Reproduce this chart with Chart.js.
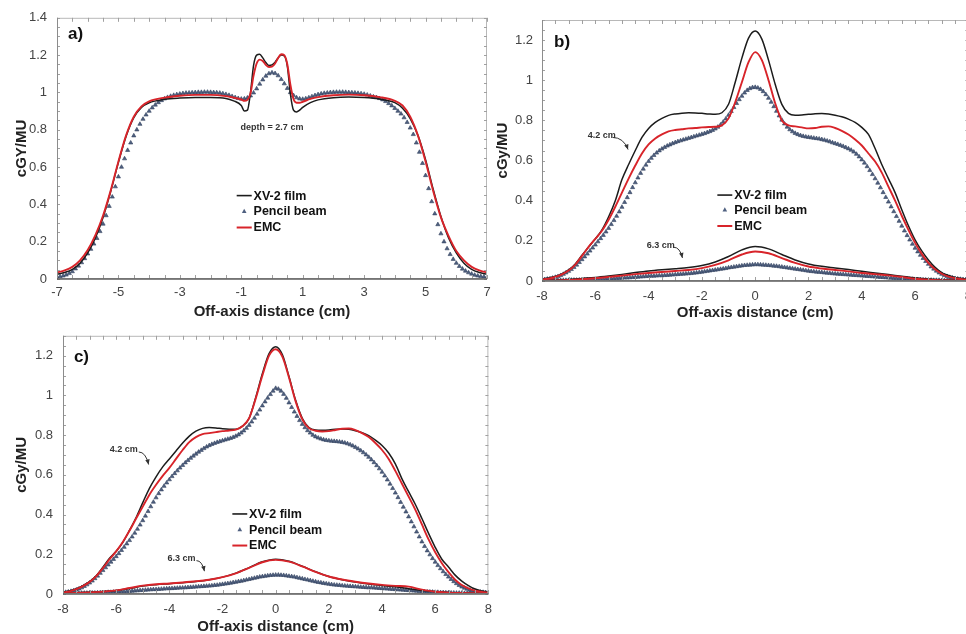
<!DOCTYPE html>
<html>
<head>
<meta charset="utf-8">
<script src="https://cdn.jsdelivr.net/npm/chart.js@4.4.1/dist/chart.umd.min.js"></script>
<style>
html,body{margin:0;padding:0;background:#fff;width:966px;height:634px;overflow:hidden;}
.panel{position:absolute;}
#pa{left:0;top:0;width:500px;height:322px;}
#pb{left:490px;top:0;width:490px;height:322px;}
#pc{left:0;top:318px;width:500px;height:320px;}
</style>
</head>
<body>
<div class="panel" id="pa"><canvas id="ca"></canvas></div>
<div class="panel" id="pb"><canvas id="cb"></canvas></div>
<div class="panel" id="pc"><canvas id="cc"></canvas></div>
<script>
const FONT = "'Liberation Sans', Arial, Helvetica, sans-serif";
const seriesNames = ['XV-2 film', 'Pencil beam', 'EMC'];

// ---------- tick values / labels ----------
const xTicksA = [-7, -5, -3, -1, 1, 3, 5, 7];
const xTickLabelsA = ['-7', '-5', '-3', '-1', '1', '3', '5', '7'];
const yTicksA = [0, 0.2, 0.4, 0.6, 0.8, 1, 1.2, 1.4];
const yTickLabelsA = ['0', '0.2', '0.4', '0.6', '0.8', '1', '1.2', '1.4'];
const xTicksBC = [-8, -6, -4, -2, 0, 2, 4, 6, 8];
const xTickLabelsBC = ['-8', '-6', '-4', '-2', '0', '2', '4', '6', '8'];
const yTicksBC = [0, 0.2, 0.4, 0.6, 0.8, 1, 1.2];
const yTickLabelsBC = ['0', '0.2', '0.4', '0.6', '0.8', '1', '1.2'];

// ---------- panel a (depth 2.7 cm) ----------
const xA_line = [-7,-6.75,-6.5,-6.25,-6,-5.75,-5.5,-5.25,-5,-4.75,-4.5,-4.25,-4,
  -3.5,-3,-2.5,-2,-1.5,-1.25,
  -1,-0.9,-0.8,-0.7,-0.6,-0.5,-0.4,-0.3,-0.2,-0.1,0,0.1,0.2,0.3,0.4,0.5,0.6,0.7,0.8,0.9,1,
  1.25,1.5,2,2.5,3,3.5,
  4,4.25,4.5,4.75,5,5.25,5.5,5.75,6,6.25,6.5,6.75,7];
const a_film = [0.025,0.035,0.052,0.085,0.140,0.220,0.330,0.470,0.625,0.765,0.865,0.920,0.945,
  0.963,0.970,0.973,0.973,0.968,0.955,
  0.930,0.900,0.905,1.000,1.145,1.200,1.205,1.185,1.160,1.145,1.148,1.162,1.185,1.200,1.195,1.140,0.990,0.905,0.895,0.905,0.920,
  0.945,0.960,0.972,0.975,0.973,0.965,
  0.945,0.915,0.860,0.770,0.640,0.480,0.335,0.220,0.140,0.085,0.052,0.035,0.025];
const a_emc = [0.035,0.046,0.065,0.100,0.155,0.235,0.340,0.475,0.630,0.770,0.870,0.925,0.952,
  0.972,0.982,0.987,0.987,0.980,0.972,
  0.962,0.955,0.960,0.995,1.090,1.155,1.176,1.168,1.148,1.136,1.138,1.155,1.185,1.205,1.200,1.150,1.040,0.965,0.945,0.945,0.950,
  0.965,0.975,0.985,0.988,0.985,0.975,
  0.955,0.930,0.870,0.770,0.630,0.470,0.330,0.230,0.150,0.100,0.065,0.046,0.035];
const xA_pb = [-7,-6.9,-6.8,-6.7,-6.6,-6.5,-6.4,-6.3,-6.2,-6.1,
  -6,-5.9,-5.8,-5.7,-5.6,-5.5,-5.4,-5.3,-5.2,-5.1,
  -5,-4.9,-4.8,-4.7,-4.6,-4.5,-4.4,-4.3,-4.2,-4.1,
  -4,-3.9,-3.8,-3.7,-3.6,-3.5,-3.4,-3.3,-3.2,-3.1,
  -3,-2.9,-2.8,-2.7,-2.6,-2.5,-2.4,-2.3,-2.2,-2.1,
  -2,-1.9,-1.8,-1.7,-1.6,-1.5,-1.4,-1.3,-1.2,-1.1,
  -1,-0.9,-0.8,-0.7,-0.6,-0.5,-0.4,-0.3,-0.2,-0.1,
  0,0.1,0.2,0.3,0.4,0.5,0.6,0.7,0.8,0.9,
  1,1.1,1.2,1.3,1.4,1.5,1.6,1.7,1.8,1.9,
  2,2.1,2.2,2.3,2.4,2.5,2.6,2.7,2.8,2.9,
  3,3.1,3.2,3.3,3.4,3.5,3.6,3.7,3.8,3.9,
  4,4.1,4.2,4.3,4.4,4.5,4.6,4.7,4.8,4.9,
  5,5.1,5.2,5.3,5.4,5.5,5.6,5.7,5.8,5.9,
  6,6.1,6.2,6.3,6.4,6.5,6.6,6.7,6.8,6.9,
  7];
const a_pencil = [0.010,0.013,0.017,0.022,0.030,0.040,0.055,0.070,0.088,0.110,
  0.135,0.160,0.188,0.218,0.255,0.295,0.340,0.390,0.440,0.495,
  0.548,0.600,0.645,0.690,0.730,0.768,0.800,0.830,0.857,0.880,
  0.900,0.918,0.933,0.946,0.957,0.966,0.974,0.980,0.985,0.989,
  0.992,0.995,0.997,0.998,0.999,1.000,1.001,1.001,1.002,1.002,
  1.001,1.000,0.999,0.997,0.994,0.990,0.985,0.979,0.973,0.968,
  0.965,0.966,0.971,0.982,0.998,1.020,1.045,1.068,1.088,1.101,
  1.106,1.102,1.090,1.070,1.047,1.022,1.000,0.984,0.972,0.966,
  0.964,0.967,0.972,0.978,0.984,0.989,0.993,0.996,0.998,1.000,
  1.001,1.002,1.002,1.002,1.001,1.000,0.999,0.998,0.996,0.994,
  0.991,0.987,0.982,0.977,0.973,0.968,0.961,0.952,0.941,0.929,
  0.915,0.900,0.885,0.865,0.840,0.810,0.775,0.730,0.680,0.620,
  0.555,0.485,0.415,0.350,0.292,0.243,0.200,0.163,0.132,0.106,
  0.085,0.068,0.054,0.043,0.034,0.027,0.021,0.017,0.014,0.012,
  0.010];

// ---------- panels b and c (depths 4.2 cm and 6.3 cm) ----------
const xBC_line = [-8,-7.75,-7.5,-7.25,-7,-6.75,-6.5,-6.25,-6,-5.75,-5.5,-5.25,
  -5,-4.75,-4.5,-4.25,-4,-3.75,-3.5,-3.25,-3,-2.75,-2.5,-2.25,
  -2,-1.75,-1.5,-1.25,-1,-0.75,-0.5,-0.25,0,0.25,0.5,0.75,
  1,1.25,1.5,1.75,2,2.25,2.5,2.75,3,3.25,3.5,3.75,
  4,4.25,4.5,4.75,5,5.25,5.5,5.75,6,6.25,6.5,6.75,
  7,7.25,7.5,7.75,8];
const xBC_line63 = [-8,-7.5,-7,-6.5,-6,-5.5,-5,-4.5,-4,-3.5,-3,-2.5,-2,-1.5,-1,-0.5,
  0,0.5,1,1.5,2,2.5,3,3.5,4,4.5,5,5.5,6,6.5,7,7.5,8];
const xBC_pb = [-8,-7.9,-7.8,-7.7,-7.6,-7.5,-7.4,-7.3,-7.2,-7.1,
  -7,-6.9,-6.8,-6.7,-6.6,-6.5,-6.4,-6.3,-6.2,-6.1,
  -6,-5.9,-5.8,-5.7,-5.6,-5.5,-5.4,-5.3,-5.2,-5.1,
  -5,-4.9,-4.8,-4.7,-4.6,-4.5,-4.4,-4.3,-4.2,-4.1,
  -4,-3.9,-3.8,-3.7,-3.6,-3.5,-3.4,-3.3,-3.2,-3.1,
  -3,-2.9,-2.8,-2.7,-2.6,-2.5,-2.4,-2.3,-2.2,-2.1,
  -2,-1.9,-1.8,-1.7,-1.6,-1.5,-1.4,-1.3,-1.2,-1.1,
  -1,-0.9,-0.8,-0.7,-0.6,-0.5,-0.4,-0.3,-0.2,-0.1,
  0,0.1,0.2,0.3,0.4,0.5,0.6,0.7,0.8,0.9,
  1,1.1,1.2,1.3,1.4,1.5,1.6,1.7,1.8,1.9,
  2,2.1,2.2,2.3,2.4,2.5,2.6,2.7,2.8,2.9,
  3,3.1,3.2,3.3,3.4,3.5,3.6,3.7,3.8,3.9,
  4,4.1,4.2,4.3,4.4,4.5,4.6,4.7,4.8,4.9,
  5,5.1,5.2,5.3,5.4,5.5,5.6,5.7,5.8,5.9,
  6,6.1,6.2,6.3,6.4,6.5,6.6,6.7,6.8,6.9,
  7,7.1,7.2,7.3,7.4,7.5,7.6,7.7,7.8,7.9,
  8];

// panel b
const b42_film = [0.010,0.015,0.022,0.035,0.055,0.085,0.128,0.170,0.210,0.255,0.320,0.400,
  0.505,0.580,0.650,0.715,0.760,0.790,0.810,0.825,0.832,0.836,0.838,0.837,
  0.835,0.832,0.830,0.838,0.880,0.990,1.110,1.210,1.245,1.205,1.100,0.980,
  0.880,0.835,0.826,0.827,0.830,0.833,0.834,0.832,0.826,0.818,0.806,0.790,
  0.765,0.730,0.660,0.580,0.510,0.440,0.355,0.275,0.205,0.150,0.105,0.068,
  0.042,0.028,0.018,0.012,0.008];
const b42_emc = [0.008,0.012,0.020,0.033,0.052,0.082,0.125,0.170,0.210,0.250,0.305,0.370,
  0.440,0.510,0.575,0.635,0.680,0.710,0.730,0.745,0.752,0.756,0.760,0.762,
  0.765,0.767,0.768,0.775,0.810,0.890,0.990,1.090,1.140,1.100,1.000,0.885,
  0.800,0.775,0.770,0.765,0.760,0.762,0.768,0.770,0.762,0.748,0.730,0.705,
  0.675,0.635,0.595,0.540,0.470,0.400,0.325,0.255,0.190,0.135,0.090,0.058,
  0.036,0.022,0.014,0.009,0.006];
const b42_pencil = [0.006,0.008,0.010,0.012,0.015,0.019,0.023,0.028,0.034,0.041,
  0.049,0.058,0.068,0.080,0.093,0.107,0.121,0.135,0.150,0.165,
  0.180,0.196,0.212,0.228,0.245,0.263,0.282,0.302,0.323,0.345,
  0.368,0.392,0.416,0.441,0.466,0.490,0.514,0.537,0.558,0.578,
  0.596,0.612,0.626,0.638,0.649,0.658,0.666,0.673,0.679,0.685,
  0.690,0.695,0.699,0.703,0.707,0.711,0.715,0.719,0.723,0.727,
  0.731,0.735,0.740,0.745,0.751,0.758,0.767,0.778,0.792,0.808,
  0.826,0.845,0.865,0.885,0.904,0.921,0.937,0.950,0.959,0.964,
  0.965,0.962,0.955,0.944,0.929,0.911,0.891,0.869,0.846,0.823,
  0.802,0.783,0.767,0.754,0.744,0.736,0.730,0.725,0.721,0.718,
  0.716,0.714,0.712,0.710,0.708,0.705,0.702,0.698,0.694,0.689,
  0.685,0.681,0.676,0.671,0.665,0.659,0.652,0.643,0.632,0.619,
  0.604,0.588,0.570,0.551,0.531,0.510,0.488,0.465,0.441,0.417,
  0.394,0.370,0.346,0.322,0.298,0.274,0.250,0.227,0.205,0.184,
  0.164,0.146,0.129,0.113,0.098,0.084,0.071,0.060,0.050,0.041,
  0.034,0.028,0.023,0.019,0.016,0.013,0.011,0.009,0.008,0.007,
  0.006];
const b63_film = [0.003,0.005,0.008,0.013,0.018,0.025,0.033,0.042,0.050,0.056,0.061,0.067,0.077,0.095,0.122,0.155,
  0.172,0.160,0.132,0.105,0.085,0.073,0.065,0.057,0.048,0.040,0.032,0.024,0.016,0.010,0.006,0.004,0.003];
const b63_emc = [0.002,0.003,0.005,0.009,0.014,0.020,0.027,0.034,0.040,0.045,0.050,0.055,0.064,0.080,0.103,0.132,
  0.147,0.138,0.114,0.090,0.072,0.062,0.055,0.048,0.040,0.034,0.028,0.020,0.011,0.006,0.004,0.003,0.002];
const b63_pencil = [0.002,0.002,0.002,0.003,0.003,0.003,0.003,0.004,0.004,0.004,
  0.004,0.005,0.005,0.005,0.006,0.006,0.006,0.007,0.007,0.007,
  0.008,0.008,0.009,0.009,0.010,0.011,0.011,0.012,0.013,0.014,
  0.015,0.016,0.016,0.017,0.018,0.019,0.020,0.021,0.022,0.023,
  0.024,0.025,0.025,0.026,0.027,0.027,0.028,0.029,0.030,0.031,
  0.032,0.033,0.034,0.035,0.036,0.037,0.038,0.040,0.041,0.043,
  0.045,0.047,0.049,0.051,0.053,0.055,0.057,0.059,0.061,0.063,
  0.066,0.068,0.070,0.072,0.074,0.076,0.078,0.079,0.080,0.081,
  0.082,0.082,0.081,0.080,0.079,0.078,0.077,0.075,0.074,0.072,
  0.070,0.068,0.066,0.064,0.062,0.060,0.058,0.056,0.054,0.052,
  0.050,0.048,0.047,0.045,0.044,0.043,0.041,0.040,0.039,0.037,
  0.036,0.035,0.034,0.033,0.032,0.031,0.030,0.029,0.028,0.027,
  0.026,0.025,0.024,0.023,0.022,0.021,0.020,0.019,0.018,0.017,
  0.016,0.015,0.014,0.013,0.012,0.012,0.011,0.010,0.009,0.009,
  0.008,0.007,0.007,0.006,0.006,0.005,0.005,0.004,0.004,0.004,
  0.003,0.003,0.003,0.003,0.002,0.002,0.002,0.002,0.002,0.002,
  0.002];

// panel c
const c42_film = [0.010,0.015,0.027,0.042,0.062,0.092,0.135,0.180,0.215,0.260,0.320,0.385,
  0.460,0.532,0.590,0.640,0.680,0.720,0.760,0.795,0.820,0.834,0.838,0.836,
  0.832,0.830,0.830,0.845,0.885,0.990,1.110,1.210,1.245,1.205,1.095,0.975,
  0.885,0.838,0.826,0.825,0.826,0.829,0.831,0.829,0.822,0.812,0.797,0.775,
  0.748,0.710,0.655,0.580,0.515,0.452,0.380,0.305,0.235,0.175,0.136,0.095,
  0.065,0.042,0.025,0.015,0.010];
const c42_emc = [0.008,0.013,0.024,0.040,0.060,0.090,0.130,0.175,0.215,0.262,0.318,0.380,
  0.440,0.500,0.550,0.595,0.635,0.680,0.725,0.765,0.790,0.805,0.810,0.815,
  0.820,0.823,0.828,0.845,0.885,0.985,1.100,1.200,1.232,1.195,1.090,0.970,
  0.880,0.835,0.822,0.818,0.820,0.826,0.832,0.833,0.825,0.810,0.790,0.760,
  0.725,0.680,0.620,0.555,0.490,0.425,0.350,0.275,0.210,0.155,0.110,0.072,
  0.045,0.028,0.017,0.011,0.007];
const c42_pencil = [0.007,0.009,0.011,0.014,0.017,0.021,0.026,0.032,0.039,0.047,
  0.056,0.066,0.078,0.091,0.105,0.119,0.133,0.147,0.161,0.175,
  0.189,0.204,0.220,0.236,0.253,0.270,0.288,0.307,0.327,0.348,
  0.370,0.393,0.416,0.440,0.463,0.485,0.506,0.525,0.543,0.560,
  0.576,0.592,0.607,0.621,0.635,0.648,0.661,0.673,0.684,0.695,
  0.705,0.715,0.724,0.733,0.741,0.748,0.754,0.759,0.764,0.768,
  0.772,0.776,0.780,0.784,0.789,0.795,0.802,0.811,0.822,0.835,
  0.850,0.867,0.886,0.906,0.927,0.948,0.968,0.987,1.005,1.022,
  1.036,1.032,1.022,1.006,0.986,0.963,0.940,0.917,0.895,0.874,
  0.855,0.838,0.823,0.811,0.800,0.792,0.786,0.781,0.777,0.774,
  0.772,0.770,0.769,0.768,0.766,0.764,0.761,0.757,0.752,0.746,
  0.739,0.731,0.722,0.712,0.701,0.689,0.676,0.662,0.647,0.631,
  0.614,0.595,0.575,0.554,0.532,0.509,0.486,0.462,0.438,0.414,
  0.389,0.364,0.339,0.313,0.288,0.263,0.240,0.218,0.198,0.179,
  0.161,0.144,0.128,0.113,0.099,0.086,0.074,0.063,0.053,0.044,
  0.036,0.030,0.025,0.020,0.017,0.014,0.012,0.010,0.009,0.008,
  0.007];
const c63_film = [0.004,0.006,0.009,0.013,0.018,0.028,0.040,0.047,0.052,0.057,0.063,0.072,0.085,0.105,0.133,0.162,
  0.175,0.165,0.140,0.112,0.088,0.072,0.060,0.050,0.043,0.036,0.027,0.018,0.012,0.008,0.006,0.004,0.003];
const c63_emc = [0.003,0.005,0.008,0.012,0.018,0.030,0.042,0.049,0.053,0.058,0.064,0.072,0.085,0.104,0.131,0.160,
  0.172,0.163,0.139,0.111,0.088,0.073,0.062,0.053,0.046,0.041,0.037,0.022,0.011,0.007,0.005,0.004,0.003];
const c63_pencil = [0.003,0.003,0.003,0.004,0.004,0.004,0.004,0.005,0.005,0.005,
  0.006,0.006,0.006,0.007,0.007,0.008,0.008,0.009,0.009,0.010,
  0.010,0.011,0.012,0.012,0.013,0.014,0.015,0.016,0.017,0.018,
  0.019,0.020,0.021,0.022,0.023,0.023,0.024,0.025,0.026,0.027,
  0.028,0.028,0.029,0.030,0.031,0.031,0.032,0.033,0.034,0.035,
  0.036,0.037,0.038,0.039,0.040,0.041,0.042,0.044,0.045,0.047,
  0.049,0.051,0.053,0.055,0.058,0.060,0.063,0.065,0.068,0.071,
  0.074,0.077,0.080,0.083,0.086,0.088,0.090,0.092,0.094,0.095,
  0.096,0.096,0.095,0.094,0.092,0.090,0.088,0.086,0.083,0.080,
  0.077,0.074,0.071,0.068,0.065,0.062,0.059,0.057,0.054,0.052,
  0.050,0.048,0.046,0.045,0.044,0.042,0.041,0.040,0.039,0.038,
  0.037,0.036,0.035,0.034,0.033,0.032,0.032,0.031,0.030,0.029,
  0.028,0.027,0.026,0.025,0.024,0.023,0.022,0.021,0.020,0.019,
  0.018,0.017,0.016,0.015,0.014,0.013,0.012,0.011,0.011,0.010,
  0.009,0.009,0.008,0.008,0.007,0.007,0.006,0.006,0.005,0.005,
  0.005,0.004,0.004,0.004,0.004,0.003,0.003,0.003,0.003,0.003,
  0.003];

// ---------- helpers ----------
function pts(xs, ys, name) {
  if (xs.length !== ys.length) throw new Error('length mismatch in ' + name + ': ' + xs.length + ' vs ' + ys.length);
  return xs.map((x, i) => ({x: x, y: ys[i]}));
}
const FILM = '#1c1c1c', EMC = '#d8242a', PB_FILL = '#4f6080', PB_EDGE = '#33425e';

function lineDs(label, data, color, width) {
  return {label, data, showLine: true, borderColor: color, backgroundColor: color,
    borderWidth: width, pointRadius: 0, pointHoverRadius: 0, cubicInterpolationMode: 'monotone'};
}
function pbDs(label, data) {
  return {label, data, showLine: false, pointStyle: 'triangle', pointRadius: 2.4,
    backgroundColor: PB_FILL, borderColor: PB_EDGE, borderWidth: 0.6};
}

function drawTri(ctx, cx, cy, r) {
  ctx.beginPath();
  ctx.moveTo(cx, cy - r);
  ctx.lineTo(cx + r * 0.9, cy + r * 0.6);
  ctx.lineTo(cx - r * 0.9, cy + r * 0.6);
  ctx.closePath();
  ctx.fillStyle = PB_FILL; ctx.fill();
}

function drawArrow(ctx, x1, y1, x2, y2) {
  const cx = x1 + (x2 - x1) * 0.7, cy = y1;
  ctx.beginPath(); ctx.moveTo(x1, y1); ctx.quadraticCurveTo(cx, cy, x2, y2); ctx.stroke();
  const ang = Math.atan2(y2 - cy, x2 - cx), L = 5.5, W = 0.42;
  ctx.beginPath();
  ctx.moveTo(x2, y2);
  ctx.lineTo(x2 - L * Math.cos(ang - W), y2 - L * Math.sin(ang - W));
  ctx.lineTo(x2 - L * Math.cos(ang + W), y2 - L * Math.sin(ang + W));
  ctx.closePath(); ctx.fill();
}

const decor = {
  id: 'decor',
  afterDatasetsDraw(chart) {
    const o = chart.options.plugins.decor;
    if (!o) return;
    const {ctx, chartArea: ca} = chart;
    const x = chart.scales.x, y = chart.scales.y;
    const X = v => x.getPixelForValue(v), Y = v => y.getPixelForValue(v);
    ctx.save();
    // frame
    ctx.strokeStyle = '#b8b8b8'; ctx.lineWidth = 1;
    ctx.strokeRect(ca.left + 0.5, ca.top + 0.5, ca.width - 1, ca.height - 1);
    // minor ticks
    ctx.strokeStyle = '#a0a0a0'; ctx.lineWidth = 1;
    ctx.beginPath();
    for (let v = x.min; v <= x.max + 1e-9; v += o.xMinor) {
      const px = Math.round(X(v)) + 0.5;
      ctx.moveTo(px, ca.top); ctx.lineTo(px, ca.top + 4);
      ctx.moveTo(px, ca.bottom); ctx.lineTo(px, ca.bottom - 4);
    }
    for (let v = y.min; v <= y.max + 1e-9; v += o.yMinor) {
      const py = Math.round(Y(v)) + 0.5;
      ctx.moveTo(ca.left, py); ctx.lineTo(ca.left + 3, py);
      ctx.moveTo(ca.right, py); ctx.lineTo(ca.right - 3, py);
    }
    ctx.stroke();
    // axis lines
    ctx.strokeStyle = '#8c8c8c'; ctx.lineWidth = 1;
    ctx.beginPath(); ctx.moveTo(ca.left + 0.5, ca.top); ctx.lineTo(ca.left + 0.5, ca.bottom); ctx.stroke();
    ctx.strokeStyle = '#5e5e5e'; ctx.lineWidth = 1.6;
    ctx.beginPath(); ctx.moveTo(ca.left, ca.bottom); ctx.lineTo(ca.right, ca.bottom); ctx.stroke();

    // panel label
    ctx.fillStyle = '#111';
    ctx.font = 'bold 17px ' + FONT;
    ctx.textAlign = 'left'; ctx.textBaseline = 'middle';
    ctx.fillText(o.panel.text, X(o.panel.x), Y(o.panel.y));

    // notes with arrows
    for (const n of o.notes) {
      ctx.font = n.font;
      ctx.fillStyle = '#333'; ctx.strokeStyle = '#333'; ctx.lineWidth = 1;
      ctx.textAlign = n.align || 'left'; ctx.textBaseline = 'middle';
      ctx.fillText(n.text, X(n.x), Y(n.y));
      if (n.arrow) drawArrow(ctx, X(n.arrow[0]), Y(n.arrow[1]), X(n.arrow[2]), Y(n.arrow[3]));
    }

    // legend
    const L = o.legend;
    const lx1 = X(L.x1), lx2 = X(L.x2), tx = X(L.xt);
    ctx.font = 'bold 12.5px ' + FONT;
    ctx.textAlign = 'left'; ctx.textBaseline = 'middle';
    seriesNames.forEach((name, i) => {
      const ry = Y(L.ys[i]);
      if (i === 0) { ctx.strokeStyle = FILM; ctx.lineWidth = 1.6; ctx.beginPath(); ctx.moveTo(lx1, ry); ctx.lineTo(lx2, ry); ctx.stroke(); }
      if (i === 1) { drawTri(ctx, (lx1 + lx2) / 2, ry, 2.6); }
      if (i === 2) { ctx.strokeStyle = EMC; ctx.lineWidth = 2; ctx.beginPath(); ctx.moveTo(lx1, ry); ctx.lineTo(lx2, ry); ctx.stroke(); }
      ctx.fillStyle = '#111';
      ctx.fillText(name, tx, ry + 0.5);
    });
    ctx.restore();
  }
};

function makeChart(canvasId, cfg) {
  return new Chart(document.getElementById(canvasId), {
    type: 'scatter',
    data: {datasets: cfg.datasets},
    plugins: [decor],
    options: {
      responsive: true, maintainAspectRatio: false, animation: false, devicePixelRatio: 1,
      layout: {padding: cfg.padding},
      events: [],
      plugins: {legend: {display: false}, tooltip: {enabled: false}, decor: cfg.decor},
      scales: {
        x: {
          type: 'linear', min: cfg.xMin, max: cfg.xMax,
          afterBuildTicks: s => { s.ticks = cfg.xTicks.map(v => ({value: v})); },
          afterFit: s => { s.height = cfg.xAxisH; },
          grid: {display: false, drawTicks: false}, border: {display: false},
          ticks: {padding: cfg.xTickPad, maxRotation: 0, autoSkip: false, color: '#444',
            font: {family: FONT, size: 13}, callback: (v, i) => cfg.xLabels[i]},
          title: {display: true, text: 'Off-axis distance (cm)', color: '#222',
            font: {family: FONT, size: 15, weight: 'bold'}, padding: {top: 0, bottom: cfg.xTitlePad}}
        },
        y: {
          type: 'linear', min: 0, max: cfg.yMax,
          afterBuildTicks: s => { s.ticks = cfg.yTicks.map(v => ({value: v})); },
          afterFit: s => { s.width = cfg.yAxisW; },
          grid: {display: false, drawTicks: false}, border: {display: false},
          ticks: {padding: cfg.yTickPad, autoSkip: false, color: '#444',
            font: {family: FONT, size: 13}, callback: (v, i) => cfg.yLabels[i]},
          title: {display: true, text: cfg.yTitle, color: '#222',
            font: {family: FONT, size: 15, weight: 'bold'}, padding: {top: cfg.yTitlePad, bottom: 0}}
        }
      }
    }
  });
}

// ---------- panel a ----------
makeChart('ca', {
  datasets: [
    lineDs(seriesNames[2], pts(xA_line, a_emc, 'a_emc'), EMC, 1.9),
    lineDs(seriesNames[0], pts(xA_line, a_film, 'a_film'), FILM, 1.5),
    pbDs(seriesNames[1], pts(xA_pb, a_pencil, 'a_pencil'))
  ],
  padding: {left: 0, top: 16, right: 13, bottom: 0},
  xMin: -7, xMax: 7, yMax: 1.4,
  xTicks: xTicksA, xLabels: xTickLabelsA, yTicks: yTicksA, yLabels: yTickLabelsA,
  xAxisH: 43, yAxisW: 57, xTickPad: 6, yTickPad: 10, xTitlePad: 1, yTitlePad: 13,
  yTitle: 'cGY/MU',
  decor: {
    xMinor: 0.5, yMinor: 0.05,
    panel: {text: 'a)', x: -6.64, y: 1.31},
    notes: [{text: 'depth = 2.7 cm', x: 0, y: 0.813, font: 'bold 9px ' + FONT, align: 'center'}],
    legend: {x1: -1.15, x2: -0.66, xt: -0.6, ys: [0.447, 0.362, 0.276]}
  }
});

// ---------- panel b ----------
makeChart('cb', {
  datasets: [
    lineDs(seriesNames[2] + ' 4.2', pts(xBC_line, b42_emc, 'b42_emc'), EMC, 1.9),
    lineDs(seriesNames[2] + ' 6.3', pts(xBC_line63, b63_emc, 'b63_emc'), EMC, 1.9),
    lineDs(seriesNames[0] + ' 4.2', pts(xBC_line, b42_film, 'b42_film'), FILM, 1.5),
    lineDs(seriesNames[0] + ' 6.3', pts(xBC_line63, b63_film, 'b63_film'), FILM, 1.5),
    pbDs(seriesNames[1] + ' 4.2', pts(xBC_pb, b42_pencil, 'b42_pencil')),
    pbDs(seriesNames[1] + ' 6.3', pts(xBC_pb, b63_pencil, 'b63_pencil'))
  ],
  padding: {left: 0, top: 20, right: 10, bottom: 0},
  xMin: -8, xMax: 8, yMax: 1.3,
  xTicks: xTicksBC, xLabels: xTickLabelsBC, yTicks: yTicksBC, yLabels: yTickLabelsBC,
  xAxisH: 41, yAxisW: 52, xTickPad: 8, yTickPad: 9, xTitlePad: 0, yTitlePad: 4,
  yTitle: 'cGy/MU',
  decor: {
    xMinor: 0.5, yMinor: 0.05,
    panel: {text: 'b)', x: -7.55, y: 1.19},
    notes: [
      {text: '4.2 cm', x: -6.28, y: 0.727, font: 'bold 9px ' + FONT, arrow: [-5.35, 0.715, -4.77, 0.655]},
      {text: '6.3 cm', x: -4.07, y: 0.179, font: 'bold 9px ' + FONT, arrow: [-3.05, 0.168, -2.73, 0.115]}
    ],
    legend: {x1: -1.42, x2: -0.86, xt: -0.79, ys: [0.428, 0.354, 0.274]}
  }
});

// ---------- panel c ----------
makeChart('cc', {
  datasets: [
    lineDs(seriesNames[2] + ' 4.2', pts(xBC_line, c42_emc, 'c42_emc'), EMC, 1.9),
    lineDs(seriesNames[2] + ' 6.3', pts(xBC_line63, c63_emc, 'c63_emc'), EMC, 1.9),
    lineDs(seriesNames[0] + ' 4.2', pts(xBC_line, c42_film, 'c42_film'), FILM, 1.5),
    lineDs(seriesNames[0] + ' 6.3', pts(xBC_line63, c63_film, 'c63_film'), FILM, 1.5),
    pbDs(seriesNames[1] + ' 4.2', pts(xBC_pb, c42_pencil, 'c42_pencil')),
    pbDs(seriesNames[1] + ' 6.3', pts(xBC_pb, c63_pencil, 'c63_pencil'))
  ],
  padding: {left: 0, top: 16, right: 10, bottom: 0},
  xMin: -8, xMax: 8, yMax: 1.3,
  xTicks: xTicksBC, xLabels: xTickLabelsBC, yTicks: yTicksBC, yLabels: yTickLabelsBC,
  xAxisH: 44, yAxisW: 63, xTickPad: 8, yTickPad: 10, xTitlePad: 2, yTitlePad: 13,
  yTitle: 'cGy/MU',
  decor: {
    xMinor: 0.5, yMinor: 0.05,
    panel: {text: 'c)', x: -7.59, y: 1.19},
    notes: [
      {text: '4.2 cm', x: -6.24, y: 0.727, font: 'bold 9px ' + FONT, arrow: [-5.15, 0.715, -4.78, 0.652]},
      {text: '6.3 cm', x: -4.07, y: 0.179, font: 'bold 9px ' + FONT, arrow: [-2.98, 0.168, -2.68, 0.115]}
    ],
    legend: {x1: -1.63, x2: -1.07, xt: -1.0, ys: [0.403, 0.324, 0.244]}
  }
});
</script>
</body>
</html>
